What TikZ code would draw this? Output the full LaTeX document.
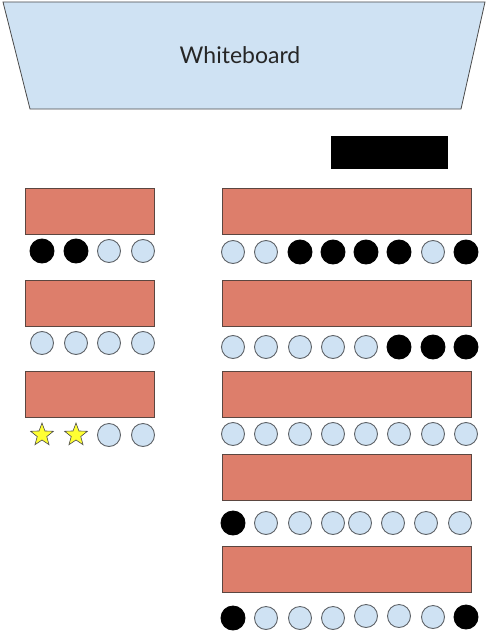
\documentclass[tikz,border=0pt]{standalone}
\usepackage{fontspec}
\setmainfont{Lato}
\usetikzlibrary{shapes.geometric, positioning}
\definecolor{board}{HTML}{CFE2F3}
\definecolor{boardLine}{HTML}{4A4A4A}
\definecolor{deskFill}{HTML}{DD7E6B}
\definecolor{deskLine}{HTML}{5B4640}
\definecolor{seatLine}{HTML}{5F6368}
\definecolor{starFill}{HTML}{FFFF33}

\begin{document}
\begin{tikzpicture}[x=1pt, y=-1pt, font=\fontsize{23pt}{25pt}\selectfont]
    \tikzset{
      tafel/.style={draw=boardLine, line width=0.8pt, fill=board},
      label/.style={text=black!85, inner sep=0pt},
      pult/.style={rectangle, draw=black, fill=black, minimum width=116pt,
                   minimum height=32pt, inner sep=0pt},
      desk/.style={rectangle, draw=deskLine, line width=0.8pt, fill=deskFill,
                   minimum height=46pt, inner sep=0pt},
      shortdesk/.style={desk, minimum width=129pt},
      longdesk/.style={desk, minimum width=249pt},
      seat/.style={circle, draw=seatLine, line width=0.9pt, fill=board,
                   minimum size=23pt, inner sep=0pt},
      taken/.style={seat, draw=black, fill=black, minimum size=24pt},
      guest/.style={star, star points=5, star point ratio=2.4, draw=black!70,
                    line width=0.6pt, fill=starFill, minimum size=24pt, inner sep=0pt}
    }
    \useasboundingbox (0,0) rectangle (486,634);
    % front of the room
    \draw[tafel] (3,2) -- (485,2) -- (461,109) -- (30,109) -- cycle;
    \node[label] (wb) at (240,55) {Whiteboard};
    \node[pult] (lectern) at (389,152) {};
    % left block
    \node[shortdesk] (l1) at (89.5,211) {};
    \node[shortdesk] (l2) at (89.5,303) {};
    \node[shortdesk] (l3) at (89.5,394.5) {};
    \foreach \x/\k [count=\i] in {42/taken,76/taken,109/seat,143/seat}
      \node[\k] (l1s\i) at (\x,251) {};
    \foreach \x/\k [count=\i] in {42/seat,76/seat,109/seat,143/seat}
      \node[\k] (l2s\i) at (\x,343) {};
    \foreach \x/\k [count=\i] in {42/guest,76/guest,109/seat,143/seat}
      \node[\k] (l3s\i) at (\x,435) {};
    % right block
    \node[longdesk] (r1) at (346.5,211) {};
    \node[longdesk] (r2) at (346.5,303.5) {};
    \node[longdesk] (r3) at (346.5,394.5) {};
    \node[longdesk] (r4) at (346.5,477.5) {};
    \node[longdesk] (r5) at (346.5,569.5) {};
    \foreach \x/\k [count=\i] in {233/seat,266/seat,300/taken,333/taken,
                                  366/taken,399/taken,433/seat,466/taken}
      \node[\k] (r1s\i) at (\x,252) {};
    \foreach \x/\k [count=\i] in {233/seat,266/seat,300/seat,333/seat,
                                  366/seat,399/taken,433/taken,466/taken}
      \node[\k] (r2s\i) at (\x,347) {};
    \foreach \x/\k [count=\i] in {233/seat,266/seat,300/seat,333/seat,
                                  366/seat,399/seat,433/seat,466/seat}
      \node[\k] (r3s\i) at (\x,434) {};
    \foreach \x/\k [count=\i] in {233/taken,266/seat,300/seat,333/seat,
                                  360/seat,393/seat,426/seat,460/seat}
      \node[\k] (r4s\i) at (\x,523) {};
    \foreach \x/\y/\k [count=\i] in {233/618/taken,266/618/seat,300/618/seat,
                                     333/618/seat,366/616/seat,399/616/seat,
                                     433/617/seat,466/617/taken}
      \node[\k] (r5s\i) at (\x,\y) {};
  \end{tikzpicture}
\end{document}
